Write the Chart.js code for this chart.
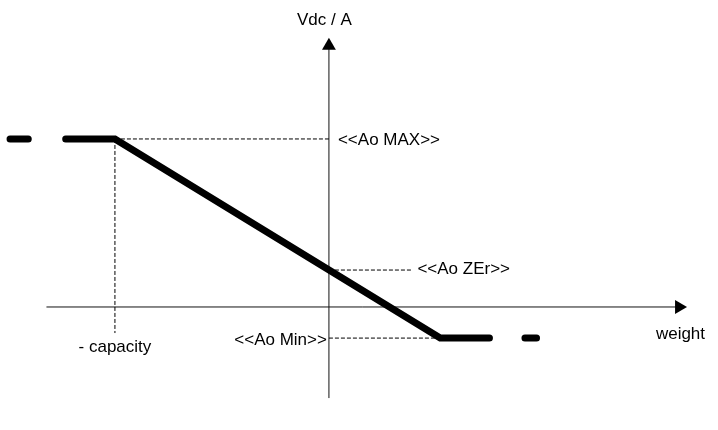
<!DOCTYPE html>
<html>
<head>
<meta charset="utf-8">
<script src="https://cdn.jsdelivr.net/npm/chart.js@4.4.1/dist/chart.umd.min.js"></script>
<style>
  html, body { margin: 0; padding: 0; background: #fff; }
  #wrap { width: 718px; height: 430px; }
</style>
</head>
<body>
<div id="wrap"><canvas id="myChart"></canvas></div>
<script>
// characteristic values (weight units on x, Vdc units on y)
const capacity = -100;
const aoMax = 100;
const aoZer = 22;
const aoMin = -18.5;
const weightAtMin = 52;

// thick output curve, broken into pieces like the original sketch
const leadDashX = [-149, -140.5];
const curveX = [-123, capacity, weightAtMin, 75];
const curveY = [aoMax, aoMax, aoMin, aoMin];
const tailDashX = [91.6, 97];

// axes extents
const xAxisRange = [-132, 163.6];
const yAxisRange = [-54.2, 155.4];

// guide line ends
const capacityGuideBottom = -15.5;
const zerGuideEnd = 39;

const labels = ['Vdc / A', '<<Ao MAX>>', '<<Ao ZEr>>', '<<Ao Min>>', '- capacity', 'weight'];

const pts = (xs, ys) => xs.map((x, i) => ({ x: x, y: Array.isArray(ys) ? ys[i] : ys }));

const thick = {
  borderColor: '#000',
  borderWidth: 7,
  borderCapStyle: 'round',
  borderJoinStyle: 'miter',
  pointRadius: 0,
  showLine: true
};
const guide = {
  borderColor: '#000',
  borderWidth: 1,
  borderDash: [4, 2],
  pointRadius: 0,
  showLine: true
};
const axis = {
  borderColor: '#111',
  borderWidth: 1,
  pointStyle: 'triangle',
  pointRadius: [0, 8],
  pointBackgroundColor: '#000',
  pointBorderWidth: 0,
  showLine: true
};

const labelPlugin = {
  id: 'sketchLabels',
  afterDatasetsDraw(chart) {
    const c = chart.ctx;
    const xs = chart.scales.x, ys = chart.scales.y;
    const spots = [
      { x: 0, y: yAxisRange[1], dx: -32, dy: -21, align: 'left' },
      { x: 0, y: aoMax, dx: 9, dy: 6, align: 'left' },
      { x: zerGuideEnd, y: aoZer, dx: 5, dy: 4, align: 'left' },
      { x: 0, y: aoMin, dx: -2, dy: 7, align: 'right' },
      { x: capacity, y: capacityGuideBottom, dx: 0, dy: 19, align: 'center' },
      { x: xAxisRange[1], y: 0, dx: 26, dy: 32, align: 'right' }
    ];
    c.save();
    c.fillStyle = '#000';
    c.font = '17px "Liberation Sans", Arial, sans-serif';
    c.textBaseline = 'alphabetic';
    labels.forEach((t, i) => {
      const s = spots[i];
      c.textAlign = s.align;
      c.fillText(t, xs.getPixelForValue(s.x) + s.dx, ys.getPixelForValue(s.y) + s.dy);
    });
    c.restore();
  }
};

new Chart(document.getElementById('myChart'), {
  type: 'scatter',
  data: {
    datasets: [
      Object.assign({ data: pts(leadDashX, aoMax) }, thick),
      Object.assign({ data: pts(curveX, curveY) }, thick),
      Object.assign({ data: pts(tailDashX, aoMin) }, thick),
      Object.assign({ data: pts([capacity, 0], aoMax) }, guide),
      Object.assign({ data: pts([capacity, capacity], [aoMax, capacityGuideBottom]) }, guide),
      Object.assign({ data: pts([0, zerGuideEnd], aoZer) }, guide),
      Object.assign({ data: pts([0, weightAtMin], aoMin) }, guide),
      Object.assign({ data: pts(xAxisRange, 0), pointRotation: [0, 90] }, axis),
      Object.assign({ data: pts([0, 0], yAxisRange), pointRotation: [0, 0] }, axis)
    ]
  },
  options: {
    responsive: true,
    maintainAspectRatio: false,
    animation: false,
    devicePixelRatio: 1,
    layout: { padding: 0, autoPadding: false },
    plugins: { legend: { display: false }, tooltip: { enabled: false } },
    scales: {
      x: { type: 'linear', display: false, min: -153.7, max: 181.8 },
      y: { type: 'linear', display: false, min: -73.2, max: 182.7 }
    }
  },
  plugins: [labelPlugin]
});
</script>
</body>
</html>
